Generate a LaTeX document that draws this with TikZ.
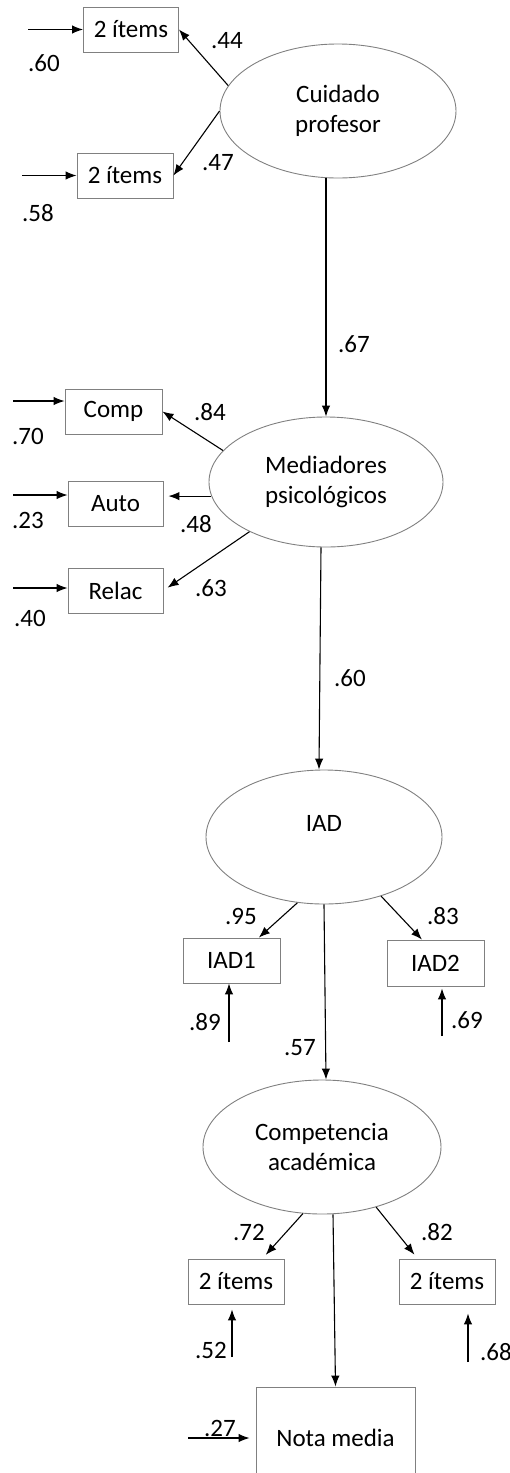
\documentclass[tikz,border=0pt]{standalone}
\usepackage{fontspec}
\setmainfont{Carlito}
\usetikzlibrary{shapes.geometric, arrows.meta, positioning}
\tikzstyle{latent} = [ellipse, draw=black!50, line width=0.9pt, minimum width=236pt, minimum height=134pt, align=center, inner sep=0pt]
\tikzstyle{item} = [rectangle, draw=black!50, line width=0.9pt, minimum width=96pt, minimum height=45pt, inner sep=0pt]
\tikzstyle{coef} = [inner sep=0pt, text depth=0pt]
\tikzstyle{arrow} = [line width=1.1pt, -{Latex[length=11pt,width=8.5pt]}]

\begin{document}
\begin{tikzpicture}[x=1pt, y=-1pt, font=\fontsize{25}{30.5}\selectfont]
\clip (0,0) rectangle (510,1473);

% latent variables
\node (cuidado) [latent] at (338,111) {Cuidado\\profesor};
\node (medi) [latent, minimum width=234pt, minimum height=130pt] at (326,482) {Mediadores\\psicológicos};
\node (iad) [latent, text depth=28pt] at (324,837) {IAD};
\node (compac) [latent, minimum width=238pt] at (322,1147) {Competencia\\académica};

% indicators
\node (cui1) [item, minimum width=95pt] at (131,29.5) {2 ítems};
\node (cui2) [item] at (125,175.5) {2 ítems};
\node (comp) [item, minimum width=97pt] at (113.5,411.5) {Comp};
\node (auto) [item, minimum width=95pt] at (115.5,503.5) {Auto};
\node (relac) [item, minimum width=95pt] at (115.5,590.5) {Relac};
\node (iad1) [item, minimum width=97pt] at (231.5,960.5) {IAD1};
\node (iad2) [item, minimum width=97pt, minimum height=46pt] at (435.5,963) {IAD2};
\node (ca1) [item] at (236,1281.5) {2 ítems};
\node (ca2) [item] at (447,1281.5) {2 ítems};
\node (nota) [item, minimum width=159pt, minimum height=102pt] at (335.5,1438) {Nota media};

% error terms
\coordinate (ecui1) at (28,29.5);
\coordinate (ecui2) at (22,175.5);
\coordinate (ecomp) at (13,401);
\coordinate (eauto) at (13,495);
\coordinate (erelac) at (13,588);
\coordinate (eiad1) at (229,1042);
\coordinate (eiad2) at (442,1036);
\coordinate (eca1) at (232,1357);
\coordinate (eca2) at (468,1362);
\coordinate (enota) at (188,1438);

% coefficients
\node (l44) [coef] at (227,40) {.44};
\node (l47) [coef] at (218,162) {.47};
\node (l60a) [coef] at (44,63) {.60};
\node (l58) [coef] at (38,213) {.58};
\node (l67) [coef] at (354,344) {.67};
\node (l84) [coef] at (210,412) {.84};
\node (l48) [coef] at (196,524) {.48};
\node (l63) [coef] at (211,588) {.63};
\node (l70) [coef] at (28,436) {.70};
\node (l23) [coef] at (28,520) {.23};
\node (l40) [coef] at (30,618) {.40};
\node (l60b) [coef] at (350,678) {.60};
\node (l95) [coef] at (241,916) {.95};
\node (l83) [coef] at (443,916) {.83};
\node (l89) [coef] at (205,1022) {.89};
\node (l69) [coef] at (467,1020) {.69};
\node (l57) [coef] at (300,1047) {.57};
\node (l72) [coef] at (249,1232) {.72};
\node (l82) [coef] at (437,1232) {.82};
\node (l52) [coef] at (211,1350) {.52};
\node (l68) [coef] at (496,1352) {.68};
\node (l27) [coef] at (220,1428) {.27};

\draw [arrow] (cuidado.167) -- (cui1.east);
\draw [arrow] (cuidado.west) -- (cui2.east);
\draw [arrow] (medi.north |- cuidado.south) -- (medi.north);

\draw [arrow] (medi.163) -- (comp.east);
\draw [arrow, shorten >=5pt] (medi.187) -- (medi.187 -| auto.east);
\draw [arrow, shorten >=5pt] (medi.213) -- (relac.east);
\draw [arrow] ([xshift=-5pt]medi.south) -- ([xshift=-5pt]iad.north);

\draw [arrow] (iad.248) -- (iad1.40);
\draw [arrow] (iad.314) -- (iad2.120);
\draw [arrow] (iad.south) -- ([xshift=4pt]compac.north);

\draw [arrow, shorten >=5pt] (compac.254) -- (ca1.41);
\draw [arrow, shorten >=5pt] (compac.312) -- (ca2.142);
\draw [arrow] ([xshift=11pt]compac.south) -- (nota.north);

\draw [arrow] (ecui1) -- (cui1.west);
\draw [arrow] (ecui2) -- (cui2.west);
\draw [arrow] (ecomp) -- (ecomp -| comp.west);
\draw [arrow] (eauto) -- (eauto -| auto.west);
\draw [arrow] (erelac) -- (erelac -| relac.west);
\draw [arrow] (eiad1) -- (eiad1 |- iad1.south);
\draw [arrow, shorten >=2pt] (eiad2) -- (eiad2 |- iad2.south);
\draw [arrow, shorten >=5pt] (eca1) -- (eca1 |- ca1.south);
\draw [arrow, shorten >=9pt] (eca2) -- (eca2 |- ca2.south);
\draw [arrow, shorten >=6pt] (enota) -- (nota.west);
\end{tikzpicture}
\end{document}
